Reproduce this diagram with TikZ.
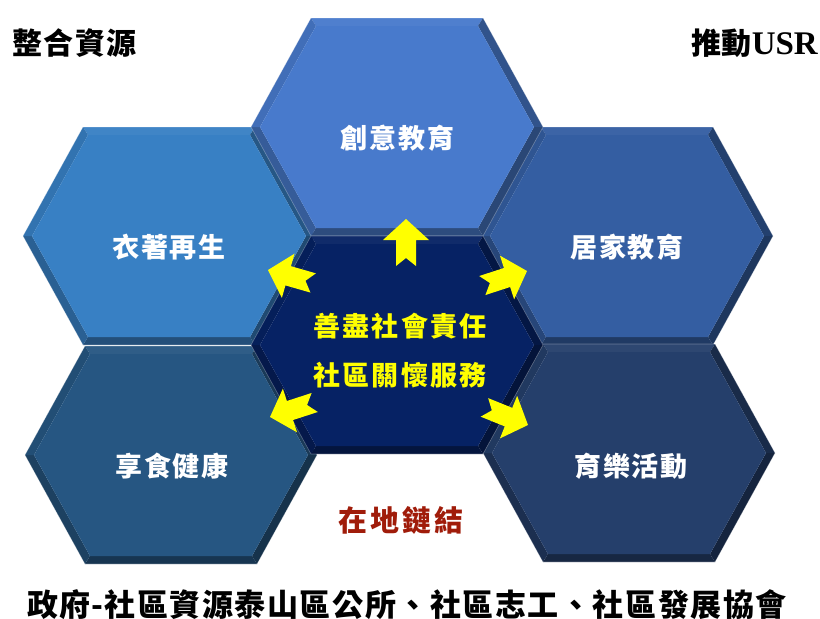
\documentclass[tikz,border=0pt]{standalone}
\usepackage{fontspec}
\newfontfamily\cjk{Noto Sans CJK TC}
\newfontfamily\usrfont{Liberation Serif}
\definecolor{cTop}{RGB}{72,122,204}
\definecolor{cLeft}{RGB}{56,128,196}
\definecolor{cRight}{RGB}{52,94,162}
\definecolor{cBotL}{RGB}{38,86,130}
\definecolor{cBotR}{RGB}{37,63,107}
\definecolor{cMid}{RGB}{6,34,100}
\definecolor{linkred}{RGB}{160,28,10}
\definecolor{arrowyellow}{RGB}{255,255,0}
\newcommand\hexcell[3]{% x, y, colour
 \begin{scope}[shift={(#1,#2)}]
  \fill[#3!96!white] (-86,-109) -- (86,-109) -- (81,-101) -- (-81,-101) -- cycle;
  \fill[#3!68!black] (86,-109) -- (146,0) -- (137,0) -- (81,-101) -- cycle;
  \fill[#3!58!black] (146,0) -- (86,109) -- (81,101) -- (137,0) -- cycle;
  \fill[#3!62!black] (86,109) -- (-86,109) -- (-81,101) -- (81,101) -- cycle;
  \fill[#3!75!black] (-86,109) -- (-146,0) -- (-137,0) -- (-81,101) -- cycle;
  \fill[#3!90!black] (-146,0) -- (-86,-109) -- (-81,-101) -- (-137,0) -- cycle;
  \fill[#3] (-81,-101) -- (81,-101) -- (137,0) -- (81,101) -- (-81,101) -- (-137,0) -- cycle;
  \draw[white, opacity=0.3, line width=0.6pt] (-86,-109) -- (86,-109) -- (146,0) -- (86,109) -- (-86,109) -- (-146,0) -- cycle;
 \end{scope}
}
\newcommand\blockarrow[2]{% tip coordinate, angle
 \fill[arrowyellow, shift={(#1)}, rotate=#2]
  (0,0) -- (-21,23) -- (-21,10) -- (-47,10) -- (-39,0) -- (-47,-10) -- (-21,-10) -- (-21,-23) -- cycle;
}
\tikzset{
 hexlabel/.style={text=white, inner sep=0pt,
   font=\cjk\bfseries\fontsize{27}{27}\selectfont\addfontfeature{LetterSpace=7}},
 midlabel/.style={text=arrowyellow, inner sep=0pt,
   font=\cjk\bfseries\fontsize{27}{27}\selectfont\addfontfeature{LetterSpace=8}},
 cornerlabel/.style={text=black, inner sep=0pt,
   font=\cjk\bfseries\fontsize{30}{30}\selectfont\addfontfeature{LetterSpace=5}},
 linklabel/.style={text=linkred, inner sep=0pt,
   font=\cjk\bfseries\fontsize{29}{29}\selectfont\addfontfeature{LetterSpace=10}},
 footlabel/.style={text=black, inner sep=0pt,
   font=\cjk\bfseries\fontsize{31}{31}\selectfont\addfontfeature{LetterSpace=5}},
}
\begin{document}
\begin{tikzpicture}[x=1pt,y=-1pt]
\fill[white] (0,0) rectangle (820,619);
\useasboundingbox (0,0) rectangle (820,619);

\hexcell{169}{236}{cLeft}
\hexcell{627}{236}{cRight}
\hexcell{397}{127}{cTop}
\hexcell{171}{455}{cBotL}
\hexcell{629}{453}{cBotR}
\hexcell{397}{345}{cMid}

\node[hexlabel] (creative) at (397.5,138) {創意教育};
\node[hexlabel] (clothes) at (169,247.5) {衣著再生};
\node[hexlabel] (home) at (627,247.5) {居家教育};
\node[hexlabel] (food) at (172,466) {享食健康};
\node[hexlabel] (leisure) at (631,466) {育樂活動};

\node[midlabel] (resp) at (400,326) {善盡社會責任};
\node[midlabel] (care) at (400,375) {社區關懷服務};

\coordinate (tipT) at (406,219);
\coordinate (tipUL) at (268,270);
\coordinate (tipUR) at (527,271);
\coordinate (tipLL) at (270,417);
\coordinate (tipLR) at (528,425);
\blockarrow{tipT}{90}
\blockarrow{tipUL}{164}
\blockarrow{tipUR}{18}
\blockarrow{tipLL}{198}
\blockarrow{tipLR}{-22}

\node[cornerlabel, anchor=west] (integrate) at (12,43) {整合資源};
\node[anchor=east, inner sep=0pt] (usr) at (818,43)
  {\cjk\bfseries\fontsize{30}{30}\selectfont 推動\usrfont\bfseries\fontsize{33}{33}\selectfont USR};
\node[linklabel] (local) at (401,520) {在地鏈結};
\node[footlabel] (partners) at (407,605) {政府\kern1pt-\kern1pt 社區資源泰山區公所、社區志工、社區發展協會};
\end{tikzpicture}
\end{document}
